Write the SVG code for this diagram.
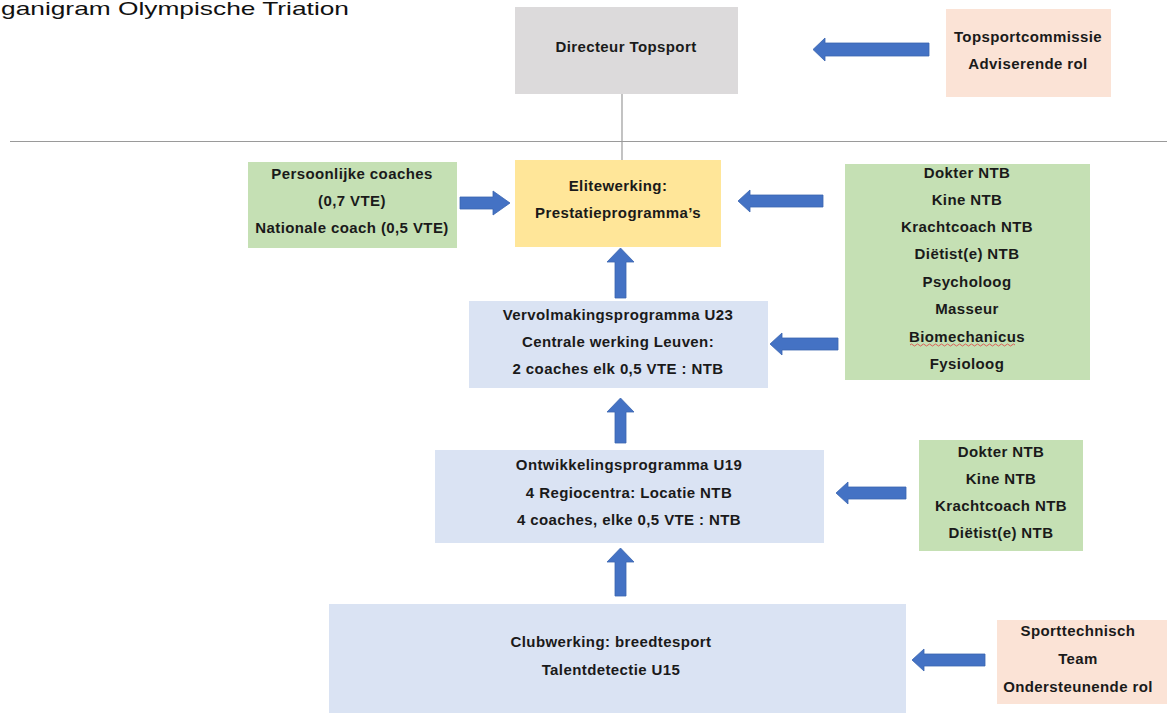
<svg xmlns="http://www.w3.org/2000/svg" width="1167" height="713" viewBox="0 0 1167 713">
<style>
text{font-family:"Liberation Sans",Arial,sans-serif;font-weight:bold;font-size:15px;letter-spacing:0.4px;fill:#1a1a1a;text-anchor:middle}
.title{font-weight:normal;font-size:19px;letter-spacing:0;text-anchor:start;fill:#111}
.arrow{fill:#4472C4;stroke:#3a64b0;stroke-width:0.8}
.grey{fill:#DCDADB}.peach{fill:#FBE3D6}.green{fill:#C5E0B4}.yellow{fill:#FFE699}.blue{fill:#DAE3F3}
.line{stroke:#9a9a9a;stroke-width:1.2;fill:none}
</style>
<rect width="1167" height="713" fill="#fff"/>
<text class="title" x="1" y="15" textLength="348" lengthAdjust="spacingAndGlyphs">ganigram Olympische Triation</text>
<g id="connectors">
<line class="line" x1="10" y1="141.5" x2="1167" y2="141.5"/>
<line class="line" x1="622" y1="94" x2="622" y2="166"/>
<polygon class="arrow" points="929,43 825,43 825,38 813,49.5 825,61 825,56 929,56"/>
<polygon class="arrow" points="460,197 493,197 493,191 510,203 493,215 493,209 460,209"/>
<polygon class="arrow" points="823,195 750,195 750,190 738,201 750,212 750,207 823,207"/>
<polygon class="arrow" points="838,338 782,338 782,333 770,344 782,355 782,350 838,350"/>
<polygon class="arrow" points="906,487 848,487 848,482 836,493 848,504 848,499 906,499"/>
<polygon class="arrow" points="985,654 924,654 924,649 912,660 924,671 924,666 985,666"/>
<polygon class="arrow" points="615,298 615,262 607,262 620.5,248 634,262 626,262 626,298"/>
<polygon class="arrow" points="615,443 615,412 607,412 620.5,398 634,412 626,412 626,443"/>
<polygon class="arrow" points="615,596 615,562 607,562 620.5,548 634,562 626,562 626,596"/>
</g>
<g id="directeur">
<rect class="grey" x="515" y="7" width="223" height="87"/>
<text x="626" y="52">Directeur Topsport</text>
</g>
<g id="topsportcommissie">
<rect class="peach" x="946" y="9" width="165" height="88"/>
<text x="1028" y="42">Topsportcommissie</text>
<text x="1028" y="69">Adviserende rol</text>
</g>
<g id="coaches">
<rect class="green" x="248" y="162" width="209" height="86"/>
<text x="352" y="179">Persoonlijke coaches</text>
<text x="352" y="206">(0,7 VTE)</text>
<text x="352" y="233">Nationale coach (0,5 VTE)</text>
</g>
<g id="elitewerking">
<rect class="yellow" x="515" y="160" width="206" height="87"/>
<text x="618" y="191">Elitewerking:</text>
<text x="618" y="218">Prestatieprogramma’s</text>
</g>
<g id="support-elite">
<rect class="green" x="845" y="164" width="245" height="216"/>
<text x="967" y="178">Dokter NTB</text>
<text x="967" y="205">Kine NTB</text>
<text x="967" y="232">Krachtcoach NTB</text>
<text x="967" y="259">Diëtist(e) NTB</text>
<text x="967" y="287">Psycholoog</text>
<text x="967" y="314">Masseur</text>
<text x="967" y="342">Biomechanicus</text>
<path d="M910,345 q1.5,-2 3,0 t3,0 t3,0 t3,0 t3,0 t3,0 t3,0 t3,0 t3,0 t3,0 t3,0 t3,0 t3,0 t3,0 t3,0 t3,0 t3,0 t3,0 t3,0 t3,0 t3,0 t3,0 t3,0 t3,0 t3,0 t3,0 t3,0 t3,0 t3,0 t3,0 t3,0 t3,0 t3,0 t3,0 t3,0" fill="none" stroke="#e04040" stroke-width="0.8"/>
<text x="967" y="369">Fysioloog</text>
</g>
<g id="vervolmaking">
<rect class="blue" x="469" y="301" width="299" height="87"/>
<text x="618" y="320">Vervolmakingsprogramma U23</text>
<text x="618" y="347">Centrale werking Leuven:</text>
<text x="618" y="374">2 coaches elk 0,5 VTE : NTB</text>
</g>
<g id="ontwikkeling">
<rect class="blue" x="435" y="450" width="389" height="93"/>
<text x="629" y="470">Ontwikkelingsprogramma U19</text>
<text x="629" y="498">4 Regiocentra: Locatie NTB</text>
<text x="629" y="525">4 coaches, elke 0,5 VTE : NTB</text>
</g>
<g id="support-u19">
<rect class="green" x="919" y="440" width="164" height="111"/>
<text x="1001" y="457">Dokter NTB</text>
<text x="1001" y="484">Kine NTB</text>
<text x="1001" y="511">Krachtcoach NTB</text>
<text x="1001" y="538">Diëtist(e) NTB</text>
</g>
<g id="clubwerking">
<rect class="blue" x="329" y="604" width="577" height="109"/>
<text x="611" y="647">Clubwerking: breedtesport</text>
<text x="611" y="675">Talentdetectie U15</text>
</g>
<g id="sporttechnisch">
<rect class="peach" x="997" y="620" width="170" height="84"/>
<text x="1078" y="636">Sporttechnisch</text>
<text x="1078" y="664">Team</text>
<text x="1078" y="692">Ondersteunende rol</text>
</g>
</svg>
